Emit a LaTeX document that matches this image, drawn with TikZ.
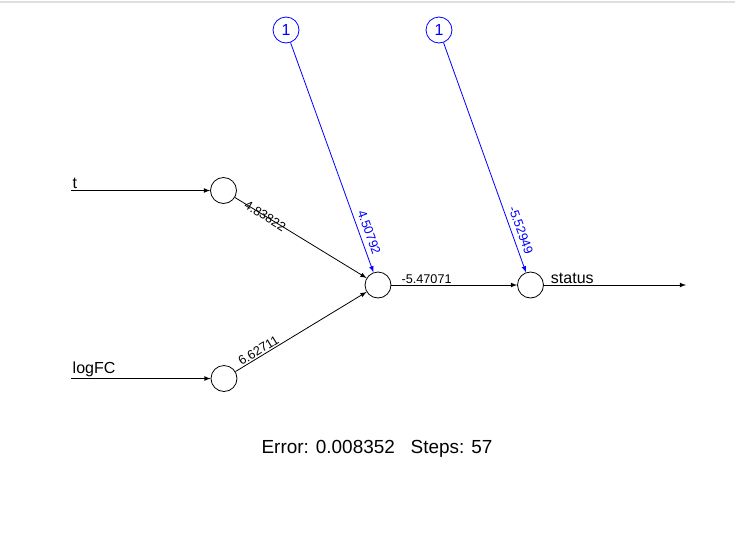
\documentclass[tikz,border=0pt]{standalone}
\usepackage{fontspec}
\setmainfont{Liberation Sans}
\usetikzlibrary{positioning}
\tikzset{
  neuron/.style={draw,circle,minimum size=19.5pt,inner sep=0pt,line width=0.6pt},
  biasnode/.style={neuron,draw=blue,text=blue,font=\fontsize{12}{12}\selectfont},
  wire/.style={-latex,line width=0.6pt},
  biaswire/.style={wire,blue},
  weight/.style={font=\fontsize{9.5}{10}\selectfont,sloped,inner sep=1pt},
  varlabel/.style={font=\fontsize{12}{12}\selectfont,inner sep=1pt,anchor=south west},
}
\begin{document}
\begin{tikzpicture}[x=0.75pt,y=-0.75pt]
  \useasboundingbox (0,0) rectangle (735,554);
  \draw[gray!25,line width=1.5pt] (0,2) -- (735,2);
  % neurons
  \node[neuron] (t) at (223.5,190.5) {};
  \node[neuron] (logFC) at (224,378.5) {};
  \node[neuron] (hidden) at (378,285) {};
  \node[neuron] (status) at (530.5,285) {};
  \node[biasnode] (bias1) at (286,30) {1};
  \node[biasnode] (bias2) at (439,30) {1};
  \coordinate (tin) at (71,190.5);
  \coordinate (logFCin) at (71,378.5);
  \coordinate (statusout) at (686,285);
  % inputs and output
  \draw[wire] (tin) -- node[varlabel,at start] {t} (t);
  \draw[wire] (logFCin) -- node[varlabel,at start] {logFC} (logFC);
  \draw[wire] (status) -- node[varlabel,at start,xshift=4pt] {status} (statusout);
  % weights
  \draw[wire] (t) -- node[weight,pos=0.23] {4.83822} (hidden);
  \draw[wire] (logFC) -- node[weight,above,pos=0.2] {6.62711} (hidden);
  \draw[wire] (hidden) -- node[weight,above,pos=0.28] {-5.47071} (status);
  \draw[biaswire] (bias1) -- node[weight,above=2.5pt,pos=0.84] {4.50792} (hidden);
  \draw[biaswire] (bias2) -- node[weight,above=2.5pt,pos=0.83] {-5.52949} (status);
  \node[font=\fontsize{14.2}{15}\selectfont] (errtext) at (377,449) {Error: 0.008352~~~Steps: 57};
\end{tikzpicture}
\end{document}
